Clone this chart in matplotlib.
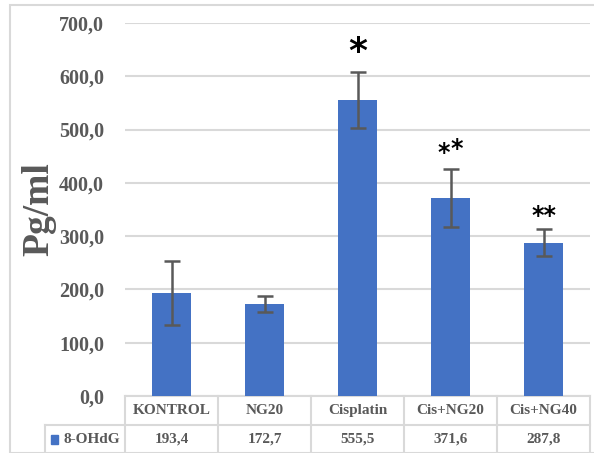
import matplotlib
matplotlib.use("Agg")
from matplotlib import pyplot as plt
from matplotlib.patches import Rectangle
import numpy as np

# data
groups = ["KONTROL", "NG20", "Cisplatin", "Cis+NG20", "Cis+NG40"]
values = [193.4, 172.7, 555.5, 371.6, 287.8]
errors = [60, 15, 52, 55, 25]
marks = ["", "", "*", "*", "**"]
series_name = "8-OHdG"
yticks = [0, 100, 200, 300, 400, 500, 600, 700]

W, H = 594, 453
fig = plt.figure(figsize=(W / 100, H / 100), dpi=100)
gray = "#595959"
grid = "#d9d9d9"
blue = "#4472C4"
font = "Liberation Serif"

# outer chart border
fig.patches.append(Rectangle((10 / W, 0), 1.2, 1 - 5 / H, transform=fig.transFigure,
                             fill=False, edgecolor=grid, lw=1.5))

ax = fig.add_axes([125 / W, (H - 396) / H, 465 / W, 373 / H])
x = np.arange(len(groups))
ax.bar(x, values, width=0.43, color=blue, zorder=3)
ax.errorbar(x, values, yerr=errors, fmt="none", ecolor=gray, elinewidth=1.8,
            capsize=6, capthick=1.8, zorder=4)

ax.set_xlim(-0.5, len(groups) - 0.5)
ax.set_ylim(0, 700)
ax.set_yticks(yticks)
ax.set_yticklabels([f"{v:.1f}".replace(".", ",") for v in yticks],
                   fontfamily=font, fontweight="bold", fontsize=14.5, color=gray)
ax.tick_params(axis="y", length=0, pad=15)
ax.set_xticks([])
for s in ax.spines.values():
    s.set_visible(False)
ax.yaxis.grid(True, color=grid, lw=1.5, zorder=0)
ax.set_ylabel("Pg/ml", fontfamily=font, fontweight="bold", fontsize=27, color=gray, labelpad=2)

# significance marks
sk = dict(ha="center", va="bottom", fontweight="bold", color="black", fontfamily="DejaVu Sans")
for i, m in enumerate(marks):
    if not m:
        continue
    top = values[i] + errors[i]
    if i == 2:
        ax.text(i, top + 6, m, fontsize=26, **sk)
    elif i == 3:
        ax.text(i - 0.07, top + 6, "*", fontsize=17, **sk)
        ax.text(i + 0.07, top + 14, "*", fontsize=17, **sk)
    else:
        ax.text(i, top + 2, m, fontsize=17, **sk)

# data table under the axis
bt = ax.get_xaxis_transform()
row_h = 29 / 373
kw = dict(transform=bt, clip_on=False, color=grid, lw=1.5)
ax.plot([-0.5, len(groups) - 0.5], [0, 0], **kw)
ax.plot([-0.5 - 80 / 93, len(groups) - 0.5], [-row_h, -row_h], **kw)
for b in np.arange(-0.5, len(groups)):
    ax.plot([b, b], [0, -2.5 * row_h], **kw)
ax.plot([-0.5 - 80 / 93] * 2, [-row_h, -2.5 * row_h], **kw)
tkw = dict(transform=bt, ha="center", va="center", fontfamily=font, fontweight="bold",
           fontsize=11, color=gray, clip_on=False)
for i, g in enumerate(groups):
    ax.text(i, -row_h / 2, g, **tkw)
    ax.text(i, -1.5 * row_h, f"{values[i]:.1f}".replace(".", ","), **tkw)
ax.text(-0.5 - 40 / 93 + 0.07, -1.5 * row_h, series_name, **tkw)
ax.add_patch(Rectangle((-0.5 - 74 / 93, -1.5 * row_h - 0.013), 0.07, 0.026, transform=bt,
                       color=blue, clip_on=False))

fig.savefig("out.png", dpi=100)
